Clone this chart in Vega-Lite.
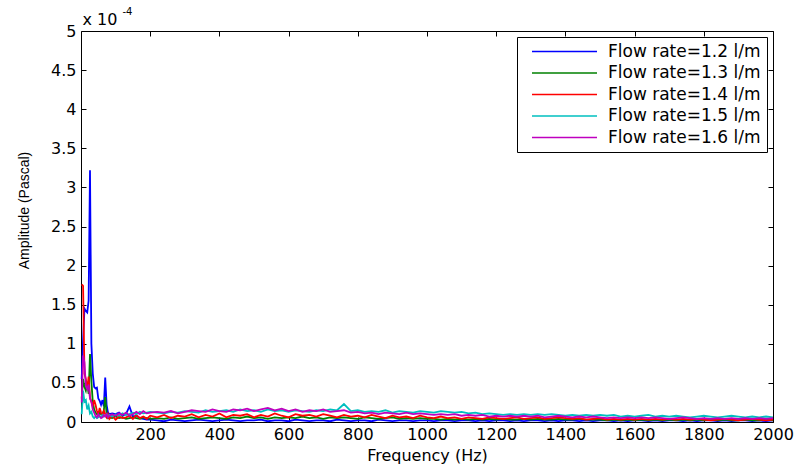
{
"$schema":"https://vega.github.io/schema/vega-lite/v6.json",
"width":692,"height":391,
"autosize":{"type":"none"},
"padding":{"left":81,"top":31,"right":28,"bottom":45},
"background":"white",
"config":{"view":{"stroke":"black","strokeWidth":1},"font":"DejaVu Sans"},
"data":{"values":[
{"f":2,"12":0.55,"13":0.30,"14":1.76,"15":0.10,"16":0.25},
{"f":6,"12":1.05,"13":0.55,"14":1.74,"15":0.40,"16":0.85},
{"f":10,"12":1.45,"13":0.45,"14":0.62,"15":0.26,"16":0.76},
{"f":14,"12":1.42,"13":0.40,"14":0.55,"15":0.28,"16":0.46},
{"f":18,"12":1.40,"13":0.50,"14":0.42,"15":0.16,"16":0.42},
{"f":22,"12":1.55,"13":0.36,"14":0.58,"15":0.21,"16":0.48},
{"f":26,"12":3.22,"13":0.87,"14":0.31,"15":0.11,"16":0.30},
{"f":30,"12":1.00,"13":0.52,"14":0.26,"15":0.13,"16":0.26},
{"f":34,"12":0.62,"13":0.26,"14":0.20,"15":0.07,"16":0.16},
{"f":38,"12":0.45,"13":0.16,"14":0.28,"15":0.05,"16":0.12},
{"f":42,"12":0.43,"13":0.12,"14":0.22,"15":0.07,"16":0.08},
{"f":46,"12":0.44,"13":0.10,"14":0.14,"15":0.05,"16":0.06},
{"f":50,"12":0.30,"13":0.08,"14":0.10,"15":0.06,"16":0.10},
{"f":54,"12":0.27,"13":0.12,"14":0.18,"15":0.08,"16":0.07},
{"f":58,"12":0.22,"13":0.10,"14":0.12,"15":0.06,"16":0.05},
{"f":62,"12":0.28,"13":0.10,"14":0.09,"15":0.09,"16":0.06},
{"f":66,"12":0.20,"13":0.15,"14":0.14,"15":0.07,"16":0.09},
{"f":70,"12":0.57,"13":0.32,"14":0.10,"15":0.08,"16":0.07},
{"f":74,"12":0.22,"13":0.10,"14":0.06,"15":0.10,"16":0.10},
{"f":78,"12":0.12,"13":0.05,"14":0.10,"15":0.07,"16":0.06},
{"f":82,"12":0.10,"13":0.06,"14":0.04,"15":0.09,"16":0.08},
{"f":90,"12":0.11,"13":0.05,"14":0.08,"15":0.07,"16":0.10},
{"f":100,"12":0.10,"13":0.07,"14":0.03,"15":0.10,"16":0.08},
{"f":110,"12":0.12,"13":0.05,"14":0.07,"15":0.08,"16":0.11},
{"f":120,"12":0.08,"13":0.06,"14":0.05,"15":0.11,"16":0.09},
{"f":130,"12":0.10,"13":0.04,"14":0.06,"15":0.09,"16":0.12},
{"f":140,"12":0.20,"13":0.05,"14":0.08,"15":0.10,"16":0.08},
{"f":150,"12":0.07,"13":0.06,"14":0.04,"15":0.12,"16":0.10},
{"f":160,"12":0.08,"13":0.05,"14":0.09,"15":0.10,"16":0.13},
{"f":170,"12":0.05,"13":0.04,"14":0.05,"15":0.13,"16":0.10},
{"f":180,"12":0.04,"13":0.06,"14":0.07,"15":0.11,"16":0.14},
{"f":190,"12":0.03,"13":0.05,"14":0.04,"15":0.12,"16":0.11},
{"f":200,"12":0.03,"13":0.04,"14":0.08,"15":0.13,"16":0.12},
{"f":220,"12":0.02,"13":0.05,"14":0.06,"15":0.12,"16":0.13},
{"f":240,"12":0.01,"13":0.04,"14":0.09,"15":0.11,"16":0.12},
{"f":260,"12":0.03,"13":0.06,"14":0.05,"15":0.13,"16":0.14},
{"f":280,"12":0.02,"13":0.04,"14":0.08,"15":0.12,"16":0.11},
{"f":300,"12":0.01,"13":0.05,"14":0.07,"15":0.14,"16":0.13},
{"f":320,"12":0.02,"13":0.06,"14":0.10,"15":0.13,"16":0.15},
{"f":340,"12":0.03,"13":0.04,"14":0.06,"15":0.12,"16":0.14},
{"f":360,"12":0.02,"13":0.05,"14":0.09,"15":0.15,"16":0.13},
{"f":380,"12":0.01,"13":0.06,"14":0.07,"15":0.13,"16":0.16},
{"f":400,"12":0.02,"13":0.05,"14":0.11,"15":0.14,"16":0.14},
{"f":420,"12":0.03,"13":0.04,"14":0.06,"15":0.15,"16":0.13},
{"f":440,"12":0.02,"13":0.06,"14":0.09,"15":0.13,"16":0.16},
{"f":460,"12":0.01,"13":0.05,"14":0.08,"15":0.16,"16":0.15},
{"f":480,"12":0.02,"13":0.07,"14":0.10,"15":0.14,"16":0.17},
{"f":500,"12":0.02,"13":0.05,"14":0.06,"15":0.15,"16":0.14},
{"f":520,"12":0.03,"13":0.06,"14":0.09,"15":0.13,"16":0.16},
{"f":540,"12":0.01,"13":0.04,"14":0.07,"15":0.16,"16":0.18},
{"f":560,"12":0.02,"13":0.06,"14":0.11,"15":0.14,"16":0.15},
{"f":580,"12":0.02,"13":0.05,"14":0.08,"15":0.15,"16":0.17},
{"f":600,"12":0.01,"13":0.06,"14":0.06,"15":0.13,"16":0.14},
{"f":620,"12":0.03,"13":0.05,"14":0.10,"15":0.15,"16":0.16},
{"f":640,"12":0.02,"13":0.07,"14":0.08,"15":0.14,"16":0.13},
{"f":660,"12":0.01,"13":0.05,"14":0.09,"15":0.13,"16":0.15},
{"f":680,"12":0.02,"13":0.06,"14":0.07,"15":0.15,"16":0.14},
{"f":700,"12":0.02,"13":0.04,"14":0.10,"15":0.14,"16":0.16},
{"f":720,"12":0.01,"13":0.06,"14":0.08,"15":0.16,"16":0.13},
{"f":740,"12":0.03,"13":0.05,"14":0.06,"15":0.15,"16":0.14},
{"f":760,"12":0.02,"13":0.06,"14":0.09,"15":0.23,"16":0.15},
{"f":780,"12":0.01,"13":0.05,"14":0.07,"15":0.14,"16":0.12},
{"f":800,"12":0.02,"13":0.04,"14":0.08,"15":0.15,"16":0.13},
{"f":820,"12":0.02,"13":0.06,"14":0.06,"15":0.13,"16":0.11},
{"f":840,"12":0.01,"13":0.05,"14":0.09,"15":0.14,"16":0.12},
{"f":860,"12":0.03,"13":0.04,"14":0.07,"15":0.13,"16":0.10},
{"f":880,"12":0.02,"13":0.05,"14":0.05,"15":0.15,"16":0.12},
{"f":900,"12":0.01,"13":0.06,"14":0.08,"15":0.12,"16":0.11},
{"f":920,"12":0.02,"13":0.04,"14":0.06,"15":0.14,"16":0.10},
{"f":940,"12":0.02,"13":0.05,"14":0.07,"15":0.13,"16":0.12},
{"f":960,"12":0.01,"13":0.04,"14":0.05,"15":0.12,"16":0.10},
{"f":980,"12":0.02,"13":0.05,"14":0.08,"15":0.14,"16":0.11},
{"f":1000,"12":0.02,"13":0.04,"14":0.06,"15":0.13,"16":0.10},
{"f":1020,"12":0.01,"13":0.04,"14":0.05,"15":0.12,"16":0.09},
{"f":1040,"12":0.02,"13":0.03,"14":0.07,"15":0.14,"16":0.10},
{"f":1060,"12":0.02,"13":0.04,"14":0.05,"15":0.13,"16":0.09},
{"f":1080,"12":0.01,"13":0.03,"14":0.06,"15":0.12,"16":0.10},
{"f":1100,"12":0.02,"13":0.04,"14":0.04,"15":0.13,"16":0.08},
{"f":1120,"12":0.02,"13":0.03,"14":0.06,"15":0.11,"16":0.09},
{"f":1140,"12":0.01,"13":0.04,"14":0.05,"15":0.12,"16":0.08},
{"f":1160,"12":0.02,"13":0.03,"14":0.04,"15":0.10,"16":0.09},
{"f":1180,"12":0.01,"13":0.04,"14":0.06,"15":0.11,"16":0.07},
{"f":1200,"12":0.02,"13":0.03,"14":0.05,"15":0.10,"16":0.08},
{"f":1220,"12":0.02,"13":0.04,"14":0.04,"15":0.09,"16":0.07},
{"f":1240,"12":0.01,"13":0.03,"14":0.05,"15":0.10,"16":0.08},
{"f":1260,"12":0.02,"13":0.03,"14":0.06,"15":0.09,"16":0.07},
{"f":1280,"12":0.01,"13":0.04,"14":0.04,"15":0.10,"16":0.08},
{"f":1300,"12":0.02,"13":0.03,"14":0.05,"15":0.09,"16":0.07},
{"f":1320,"12":0.02,"13":0.04,"14":0.06,"15":0.10,"16":0.08},
{"f":1340,"12":0.01,"13":0.03,"14":0.04,"15":0.09,"16":0.06},
{"f":1360,"12":0.02,"13":0.03,"14":0.05,"15":0.10,"16":0.07},
{"f":1380,"12":0.01,"13":0.04,"14":0.06,"15":0.09,"16":0.08},
{"f":1400,"12":0.02,"13":0.03,"14":0.05,"15":0.08,"16":0.07},
{"f":1420,"12":0.02,"13":0.03,"14":0.04,"15":0.09,"16":0.06},
{"f":1440,"12":0.01,"13":0.04,"14":0.05,"15":0.08,"16":0.07},
{"f":1460,"12":0.02,"13":0.03,"14":0.03,"15":0.09,"16":0.06},
{"f":1480,"12":0.01,"13":0.03,"14":0.04,"15":0.08,"16":0.07},
{"f":1500,"12":0.02,"13":0.03,"14":0.05,"15":0.09,"16":0.06},
{"f":1520,"12":0.02,"13":0.02,"14":0.03,"15":0.08,"16":0.05},
{"f":1540,"12":0.01,"13":0.03,"14":0.04,"15":0.09,"16":0.06},
{"f":1560,"12":0.02,"13":0.02,"14":0.03,"15":0.07,"16":0.05},
{"f":1580,"12":0.01,"13":0.03,"14":0.04,"15":0.08,"16":0.06},
{"f":1600,"12":0.02,"13":0.02,"14":0.03,"15":0.07,"16":0.05},
{"f":1620,"12":0.02,"13":0.03,"14":0.04,"15":0.08,"16":0.06},
{"f":1640,"12":0.01,"13":0.02,"14":0.03,"15":0.09,"16":0.05},
{"f":1660,"12":0.02,"13":0.03,"14":0.04,"15":0.07,"16":0.06},
{"f":1680,"12":0.01,"13":0.02,"14":0.03,"15":0.08,"16":0.05},
{"f":1700,"12":0.02,"13":0.03,"14":0.04,"15":0.07,"16":0.04},
{"f":1720,"12":0.02,"13":0.02,"14":0.03,"15":0.08,"16":0.05},
{"f":1740,"12":0.01,"13":0.03,"14":0.04,"15":0.07,"16":0.06},
{"f":1760,"12":0.02,"13":0.02,"14":0.03,"15":0.06,"16":0.05},
{"f":1780,"12":0.01,"13":0.03,"14":0.04,"15":0.07,"16":0.04},
{"f":1800,"12":0.02,"13":0.02,"14":0.03,"15":0.08,"16":0.05},
{"f":1820,"12":0.02,"13":0.03,"14":0.02,"15":0.07,"16":0.04},
{"f":1840,"12":0.01,"13":0.02,"14":0.03,"15":0.06,"16":0.05},
{"f":1860,"12":0.02,"13":0.03,"14":0.04,"15":0.07,"16":0.04},
{"f":1880,"12":0.01,"13":0.02,"14":0.03,"15":0.08,"16":0.05},
{"f":1900,"12":0.02,"13":0.02,"14":0.02,"15":0.07,"16":0.04},
{"f":1920,"12":0.02,"13":0.03,"14":0.03,"15":0.06,"16":0.05},
{"f":1940,"12":0.01,"13":0.02,"14":0.04,"15":0.07,"16":0.04},
{"f":1960,"12":0.02,"13":0.02,"14":0.03,"15":0.06,"16":0.05},
{"f":1980,"12":0.01,"13":0.03,"14":0.02,"15":0.07,"16":0.04},
{"f":2000,"12":0.02,"13":0.02,"14":0.03,"15":0.06,"16":0.05}
]},
"transform":[{"fold":["12","13","14","15","16"],"as":["rate","amp"]}],
"layer":[
{"mark":{"type":"line","strokeWidth":1.8},
 "encoding":{
  "x":{"field":"f","type":"quantitative","scale":{"domain":[0,2000],"nice":false,"zero":false},
       "axis":{"orient":"bottom","values":[200,400,600,800,1000,1200,1400,1600,1800,2000],"format":"d","domain":false,"grid":false,"labelFlush":false,
               "tickSize":-5,"tickColor":"black","tickWidth":1,"labelFont":"DejaVu Sans","labelFontSize":16,"labelColor":"black","labelPadding":9,
               "title":"Frequency (Hz)","titleFont":"DejaVu Sans","titleFontSize":16,"titleFontWeight":"normal","titleColor":"black","titlePadding":5}},
  "y":{"field":"amp","type":"quantitative","scale":{"domain":[0,5],"nice":false},
       "axis":{"orient":"left","values":[0,0.5,1,1.5,2,2.5,3,3.5,4,4.5,5],"format":"~g","domain":false,"grid":false,
               "tickSize":-5,"tickColor":"black","tickWidth":1,"labelFont":"DejaVu Sans","labelFontSize":16,"labelColor":"black","labelPadding":10,
               "title":"Amplitude (Pascal)","titleFont":"Liberation Sans","titleFontSize":14,"titleFontWeight":"normal","titleColor":"black","titlePadding":19,"titleY":179}},
  "color":{"field":"rate","type":"nominal",
       "scale":{"domain":["12","13","14","15","16"],"range":["#0000FF","#008000","#FF0000","#00BFBF","#BF00BF"]},
       "legend":{"orient":"top-right","offset":6,"title":null,"symbolType":"stroke","symbolSize":4225,"symbolStrokeWidth":1.5,
                 "labelExpr":"'Flow rate=' + substring(datum.label,0,1) + '.' + substring(datum.label,1) + ' l/m'",
                 "labelFont":"DejaVu Sans","labelFontSize":17,"labelColor":"black","labelOffset":10,"symbolOffset":8,
                 "strokeColor":"black","fillColor":"white","padding":6,"clipHeight":17,"rowPadding":3.5}}
 }},
{"mark":{"type":"point","opacity":0},
 "encoding":{
  "x":{"field":"f","type":"quantitative",
       "axis":{"orient":"top","values":[200,400,600,800,1000,1200,1400,1600,1800,2000],"labels":false,"domain":false,"grid":false,
               "tickSize":-5,"tickColor":"black","tickWidth":1,
               "title":"x 10","titleFont":"DejaVu Sans","titleFontSize":16,"titleFontWeight":"normal","titleColor":"black",
               "titleX":1,"titleY":-7,"titleAlign":"left","titleBaseline":"alphabetic","titleAngle":0}},
  "y":{"field":"amp","type":"quantitative",
       "axis":{"orient":"right","values":[0,0.5,1,1.5,2,2.5,3,3.5,4,4.5,5],"labels":false,"domain":false,"grid":false,
               "tickSize":-5,"tickColor":"black","tickWidth":1,
               "title":"-4","titleFont":"DejaVu Sans","titleFontSize":10,"titleFontWeight":"normal","titleColor":"black",
               "titleX":-651,"titleY":-17,"titleAlign":"left","titleBaseline":"alphabetic","titleAngle":0}}
 }}
],
"resolve":{"axis":{"x":"independent","y":"independent"}}
}
